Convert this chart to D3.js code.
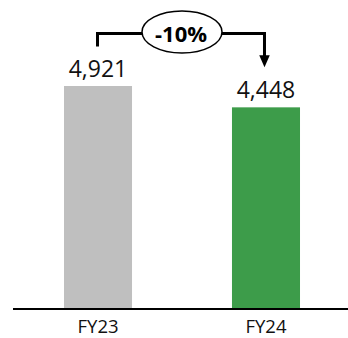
<!DOCTYPE html>
<html>
<head>
<meta charset="utf-8">
<script src="https://cdn.jsdelivr.net/npm/d3@7"></script>
<style>
  html, body { margin: 0; padding: 0; background: #fff; }
  svg { display: block; font-family: "Open Sans", "Liberation Sans", sans-serif; }
</style>
</head>
<body>
<svg id="chart" width="348" height="338"></svg>
<script>
// Fiscal-year totals
const categories = ["FY23", "FY24"];
const values = [4921, 4448];
const barColors = ["#BFBFBF", "#3D9C4A"];

const svg = d3.select("#chart");
const baseY = 308;

const x = d3.scaleBand()
  .domain(categories)
  .range([14, 350])
  .paddingInner(0.595)
  .paddingOuter(0.2976);

const y = d3.scaleLinear()
  .domain([0, 6000])
  .range([baseY, baseY - 6000 * 222 / 4921]);

// Bars
svg.selectAll("rect.bar")
  .data(values)
  .join("rect")
  .attr("class", "bar")
  .attr("x", (d, i) => x(categories[i]))
  .attr("y", d => y(d))
  .attr("width", x.bandwidth())
  .attr("height", d => baseY - y(d))
  .attr("fill", (d, i) => barColors[i]);

// Value labels
const fmt = d3.format(",");
svg.selectAll("text.val")
  .data(values)
  .join("text")
  .attr("class", "val")
  .attr("x", (d, i) => x(categories[i]) + x.bandwidth() / 2)
  .attr("y", d => y(d) - 9.5)
  .attr("text-anchor", "middle")
  .attr("font-size", 23)
  .attr("fill", "#111")
  .text(d => fmt(d));

// Category axis
const axis = svg.append("g")
  .attr("transform", `translate(0,${baseY + 1})`)
  .call(d3.axisBottom(x).tickSize(0).tickPadding(0));
axis.select(".domain")
  .attr("d", "M13,0H348")
  .attr("stroke", "#000")
  .attr("stroke-width", 2);
axis.selectAll(".tick text")
  .attr("y", 24.2)
  .attr("dy", null)
  .attr("font-size", 18.5)
  .attr("font-family", "'Open Sans', sans-serif")
  .attr("fill", "#111");

// Change bracket with percentage bubble
const cx0 = x(categories[0]) + x.bandwidth() / 2 - 0.5;
const cx1 = x(categories[1]) + x.bandwidth() / 2 - 1.5;
const bracketY = y(d3.max(values)) - 52.5;
const bubbleX = 182, bubbleY = 32, rx = 40, ry = 21;
const startY = y(values[0]) - 39.5;
const tipY = y(values[1]) - 40;
const headH = 12, headW = 10.5;

const g = svg.append("g");
g.append("path")
  .attr("d", `M${cx0},${startY}V${bracketY}H${bubbleX - rx}`)
  .attr("fill", "none")
  .attr("stroke", "#000")
  .attr("stroke-width", 3);
g.append("path")
  .attr("d", `M${bubbleX + rx},${bracketY}H${cx1}V${tipY - headH + 1}`)
  .attr("fill", "none")
  .attr("stroke", "#000")
  .attr("stroke-width", 3);
g.append("path")
  .attr("d", `M${cx1 - headW / 2},${tipY - headH}L${cx1 + headW / 2},${tipY - headH}L${cx1},${tipY}Z`)
  .attr("fill", "#000");
g.append("ellipse")
  .attr("cx", bubbleX)
  .attr("cy", bubbleY)
  .attr("rx", rx)
  .attr("ry", ry)
  .attr("fill", "#fff")
  .attr("stroke", "#000")
  .attr("stroke-width", 1.5);

const change = (values[1] - values[0]) / values[0];
g.append("text")
  .attr("x", bubbleX - 1)
  .attr("y", bubbleY + 10)
  .attr("text-anchor", "middle")
  .attr("font-size", 22)
  .attr("font-weight", "bold")
  .attr("fill", "#000")
  .text(d3.format(".0%")(change).replace("−", "-"));
</script>
</body>
</html>
